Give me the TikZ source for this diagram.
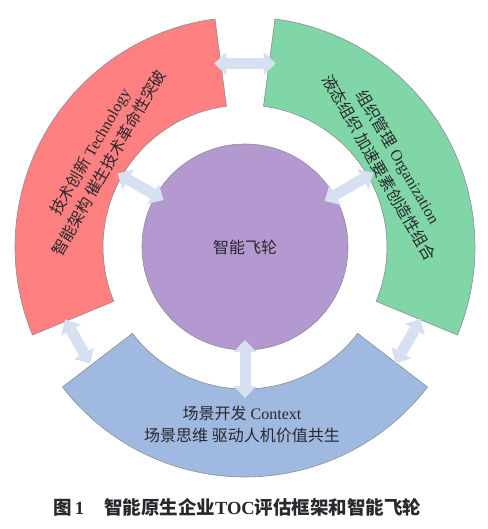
\documentclass[tikz,border=0pt]{standalone}
\usepackage{fontspec}
\setmainfont{Liberation Serif}
\newfontfamily\cjk{Noto Sans CJK SC}
\usetikzlibrary{arrows.meta}
\definecolor{segred}{RGB}{255,128,128}
\definecolor{seggreen}{RGB}{128,214,166}
\definecolor{segblue}{RGB}{160,185,224}
\definecolor{hubpurple}{RGB}{180,152,208}
\definecolor{segline}{RGB}{140,140,150}
\definecolor{arrowc}{RGB}{214,224,240}
\definecolor{txt}{RGB}{40,40,45}
\begin{document}
\begin{tikzpicture}[x=1pt,y=1pt,
  seg/.style={draw=segline, line width=0.6pt},
  link/.style={draw=arrowc, line width=11pt,
    {Triangle[length=12pt,width=23pt,line width=0pt]}-{Triangle[length=12pt,width=23pt,line width=0pt]}},
  lbl/.style={font=\fontsize{16}{22}\selectfont, text=txt, align=center, inner sep=0pt},
  captext/.style={font=\fontsize{18.5}{22}\selectfont\bfseries, text=txt, inner sep=0pt}]
\useasboundingbox (-245,-282) rectangle (242,247);
% ring segments
\path[seg, fill=segred] (97.5:142pt) arc[start angle=97.5,end angle=202.5,radius=142pt]
  -- (202.5:230pt) arc[start angle=202.5,end angle=97.5,radius=230pt] -- cycle;
\path[seg, fill=seggreen] (-22.5:142pt) arc[start angle=-22.5,end angle=82.5,radius=142pt]
  -- (82.5:230pt) arc[start angle=82.5,end angle=-22.5,radius=230pt] -- cycle;
\path[seg, fill=segblue] (217.5:142pt) arc[start angle=217.5,end angle=322.5,radius=142pt]
  -- (322.5:230pt) arc[start angle=322.5,end angle=217.5,radius=230pt] -- cycle;
% hub
\node[circle, draw=segline, line width=0.6pt, fill=hubpurple, minimum size=206pt, inner sep=0pt,
  font=\fontsize{16}{20}\selectfont\cjk, text=txt] (hub) at (0,0) {智能飞轮};
% labels
\node[lbl, rotate=60] (tech) at (-145.7,89.7)
  {{\cjk 技术创新} Technology\\{\cjk 智能架构 催生技术革命性突破}};
\node[lbl, rotate=-60] (org) at (143.9,84.8)
  {{\cjk 组织管理} Organization\\{\cjk 液态组织 加速要素创造性组合}};
\node[lbl] (ctx) at (-3,-177)
  {{\cjk 场景开发} Context\\{\cjk 场景思维 驱动人机价值共生}};
% arrow end points
\coordinate (tA) at (99.5:186pt);
\coordinate (tB) at (80.5:186pt);
\coordinate (lA) at (202:194pt);
\coordinate (lB) at (217:194pt);
\coordinate (rA) at (337.7:190pt);
\coordinate (rB) at (322.3:190pt);
\coordinate (r1o) at (150:147pt);
\coordinate (r1i) at (150:94pt);
\coordinate (r2o) at (30:148pt);
\coordinate (r2i) at (30:92pt);
\coordinate (r3o) at (270:151pt);
\coordinate (r3i) at (270:93pt);
\draw[link] (tA) -- (tB);
\draw[link] (lA) -- (lB);
\draw[link] (rA) -- (rB);
\draw[link] (r1o) -- (r1i);
\draw[link] (r2o) -- (r2i);
\draw[link] (r3o) -- (r3i);
% caption
\node[captext, anchor=west] (caption) at (-192,-260)
  {{\cjk 图}\,1\hspace{20pt}{\cjk 智能原生企业}TOC{\cjk 评估框架和智能飞轮}};
\end{tikzpicture}
\end{document}
